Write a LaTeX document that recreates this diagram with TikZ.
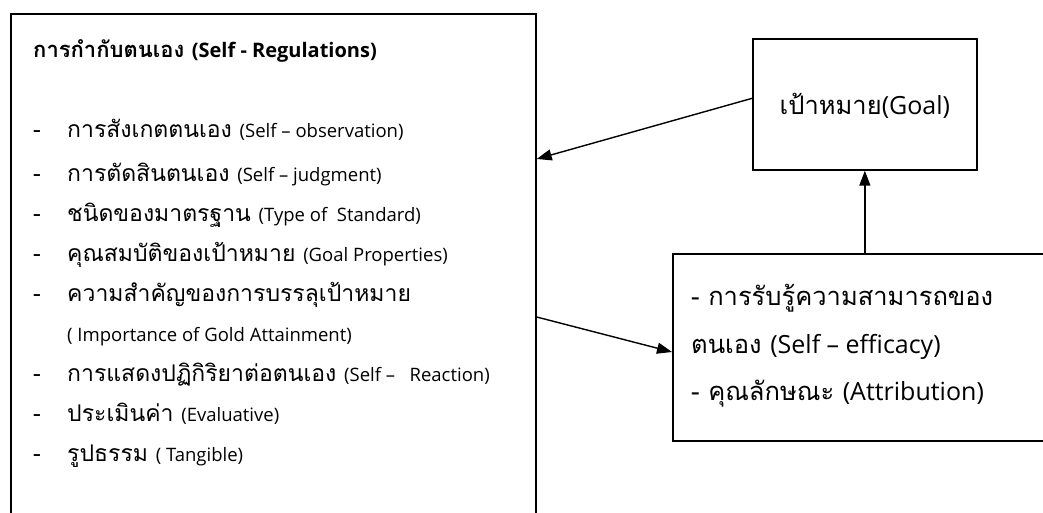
\documentclass[tikz,border=0pt]{standalone}
\usepackage{fontspec}
\usetikzlibrary{arrows.meta}
\newfontfamily\thai[Script=Thai]{Loma}
\newfontfamily\lat{Open Sans}
\tikzset{
  box/.style={draw=black, line width=1.7pt, rectangle, inner sep=0pt, anchor=north west},
  arr/.style={draw=black, line width=1.4pt, -{Triangle[length=15pt,width=11pt]}},
  item/.style={anchor=base west, inner sep=0pt, font=\thai\fontsize{23}{27}\selectfont},
  bullet/.style={anchor=base west, inner sep=0pt, font=\thai\fontsize{23}{27}\selectfont},
  big/.style={anchor=base west, inner sep=0pt, font=\thai\fontsize{25.5}{30}\selectfont},
}
\newcommand{\sm}[1]{{\lat\fontsize{18.5}{22}\selectfont #1}}
\newcommand{\bl}[1]{{\lat\fontsize{25}{30}\selectfont #1}}
\begin{document}
\begin{tikzpicture}[x=1pt,y=-1pt]
\clip (0,0) rectangle (1043,513);
\fill[white] (0,0) rectangle (1043,513);
% boxes
\node[box, minimum width=525pt, minimum height=530pt] (reg) at (10,13) {};
\node[box, minimum width=224pt, minimum height=131pt] (goal) at (752,38) {};
\node[box, minimum width=400pt, minimum height=187pt] (eff) at (672,253) {};
% title
\node[anchor=base west, inner sep=0pt, font=\thai\bfseries\fontsize{22}{26}\selectfont] (title) at (33,58) {การกำกับตนเอง {\lat\bfseries\fontsize{20}{24}\selectfont (Self - Regulations)}};
% items
\foreach \y/\n in {138/d1,182/d2,221/d3,261/d4,301/d5,381/d6,421/d7,461/d8}
  \node[bullet] (\n) at (33,\y) {-};
\node[item] (i1) at (67,138) {การสังเกตตนเอง \sm{(Self – observation)}};
\node[item] (i2) at (67,182) {การตัดสินตนเอง \sm{(Self – judgment)}};
\node[item] (i3) at (67,221) {ชนิดของมาตรฐาน \sm{(Type of \ Standard)}};
\node[item] (i4) at (67,261) {คุณสมบัติของเป้าหมาย \sm{(Goal Properties)}};
\node[item] (i5) at (67,301) {ความสำคัญของการบรรลุเป้าหมาย};
\node[item] (i5b) at (67,341) {\sm{( Importance of Gold Attainment)}};
\node[item] (i6) at (67,381) {การแสดงปฏิกิริยาต่อตนเอง \sm{(Self – \ \ Reaction)}};
\node[item] (i7) at (67,421) {ประเมินค่า \sm{(Evaluative)}};
\node[item] (i8) at (67,461) {รูปธรรม \sm{( Tangible)}};
% goal text
\node[inner sep=0pt, font=\thai\fontsize{25.5}{30}\selectfont] (goaltext) at ([yshift=-1pt]goal.center) {เป้าหมาย\bl{(Goal)}};
% efficacy text
\node[big] (e1) at (691,305) {- การรับรู้ความสามารถของ};
\node[big] (e2) at (691,353) {ตนเอง \bl{(Self – efficacy)}};
\node[big] (e3) at (691,400) {- คุณลักษณะ \bl{(Attribution)}};
% arrows
\draw[arr] ([yshift=6pt]goal.west) -- ([yshift=-146pt]reg.north east);
\draw[arr] ([yshift=-304pt]reg.north east) -- ([yshift=-99pt]eff.north west);
\draw[arr] (goal.south |- eff.north) -- (goal.south);
\end{tikzpicture}
\end{document}
